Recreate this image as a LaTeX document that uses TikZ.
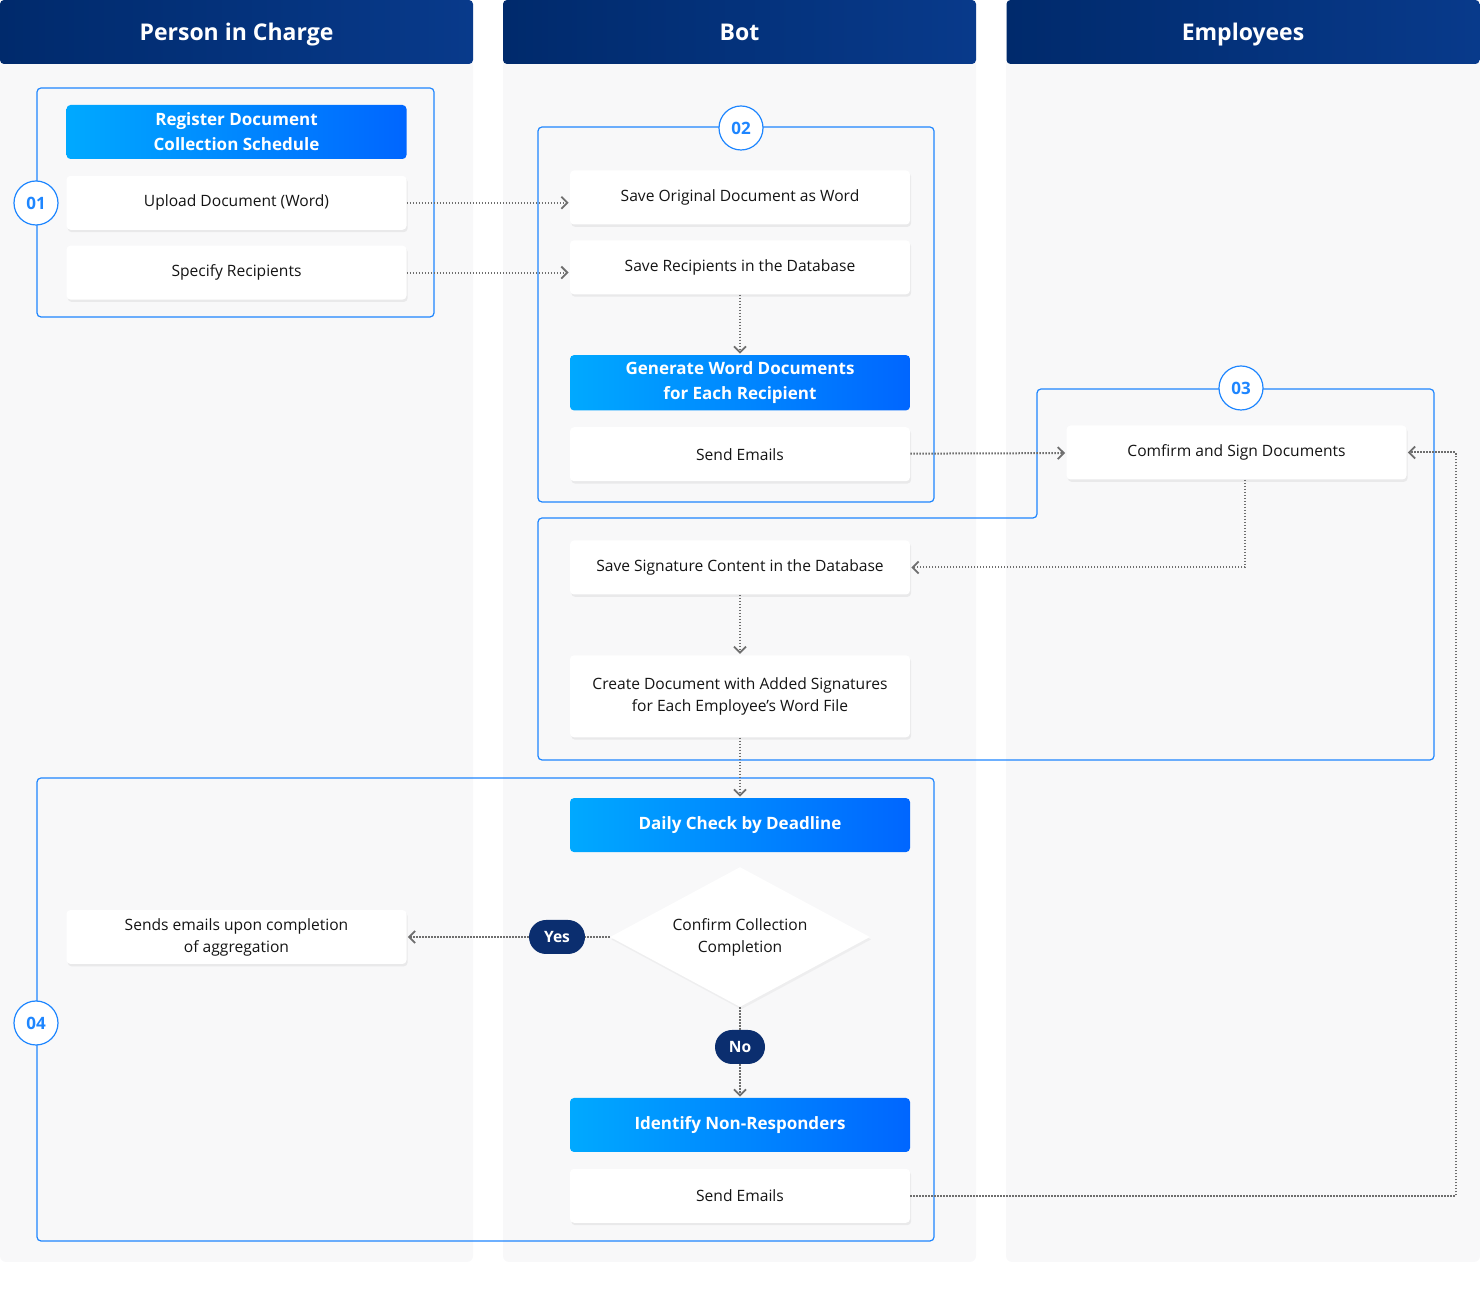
\documentclass[tikz,border=0pt]{standalone}
\usepackage{fontspec}
\setmainfont{Open Sans}
\usetikzlibrary{shapes.geometric, arrows.meta, positioning, shadows}

\definecolor{lanebg}{HTML}{F8F8F9}
\definecolor{navyA}{HTML}{002A6C}
\definecolor{navyB}{HTML}{083A8B}
\definecolor{frameblue}{HTML}{1E86FF}
\definecolor{gradA}{HTML}{00A9FF}
\definecolor{gradB}{HTML}{0066FF}
\definecolor{pillnavy}{HTML}{0B2E6F}
\definecolor{flowgray}{HTML}{6E6E6E}
\definecolor{txt}{HTML}{141414}

\begin{document}
\begin{tikzpicture}[
  x=0.5pt, y=-0.5pt,
  lane/.style={fill=lanebg, rounded corners=3pt},
  head/.style={rectangle, left color=navyA, right color=navyB, rounded corners=2pt, minimum width=236.5pt, minimum height=32pt, text height=10pt, text depth=1pt, text=white, font=\fontsize{11.5}{13}\selectfont\bfseries},
  frame/.style={draw=frameblue, line width=0.6pt, rounded corners=2pt},
  badge/.style={circle, draw=frameblue, line width=0.6pt, fill=white, minimum size=22pt, inner sep=0pt, text=frameblue, font=\fontsize{8.5}{10}\selectfont\bfseries},
  whitebox/.style={rectangle, fill=white, rounded corners=2pt, minimum width=170pt, minimum height=27pt, align=center, text=txt, font=\fontsize{7.8}{11}\selectfont, drop shadow={shadow xshift=0.6pt, shadow yshift=-1.2pt, opacity=0.12}},
  gradbox/.style={rectangle, left color=gradA, right color=gradB, rounded corners=2pt, minimum width=170pt, minimum height=27pt, align=center, text=white, font=\fontsize{8.5}{12.5}\selectfont\bfseries},
  decision/.style={diamond, aspect=1.86, fill=white, minimum width=130pt, minimum height=70pt, inner sep=0pt, align=center, text=txt, font=\fontsize{7.8}{11}\selectfont, drop shadow={shadow xshift=0.6pt, shadow yshift=-1.2pt, opacity=0.08}},
  pill/.style={rectangle, fill=pillnavy, rounded corners=8.5pt, minimum height=17pt, minimum width=25pt, text=white, font=\fontsize{7.8}{9}\selectfont\bfseries},
  link/.style={draw=flowgray, line width=1pt, dash pattern=on 0.75pt off 0.75pt},
  flow/.style={link, -{Straight Barb[length=3pt, width=6pt, line width=0.9pt]}, shorten >=0.5pt}
]
\useasboundingbox (0,0) rectangle (1480,1293);

% Swimlanes
\fill[lane] (0,0) rectangle (473,1262);
\fill[lane] (503,0) rectangle (976,1262);
\fill[lane] (1006,0) rectangle (1480,1262);
\node[head] (hpic) at (236.5,32) {Person in Charge};
\node[head] (hbot) at (739.5,32) {Bot};
\node[head] (hemp) at (1243,32) {Employees};

% Step frames
\draw[frame] (37,88) rectangle (434,317);
\draw[frame] (538,127) rectangle (934,502);
\draw[frame] (1037,389) -- (1434,389) -- (1434,760) -- (538,760) -- (538,518) -- (1037,518) -- cycle;
\draw[frame] (37,778) rectangle (934,1241);

% Step 01 - person in charge
\node[gradbox] (register) at (236.5,132) {Register Document\\Collection Schedule};
\node[whitebox, below=8pt of register] (upload) {Upload Document (Word)};
\node[whitebox, below=7.5pt of upload] (recipients) {Specify Recipients};

% Step 02 - bot
\node[whitebox] (saveword) at (740,197.5) {Save Original Document as Word};
\node[whitebox, below=7.5pt of saveword] (savercp) {Save Recipients in the Database};
\node[gradbox, below=30pt of savercp] (generate) {Generate Word Documents\\for Each Recipient};
\node[whitebox, below=8pt of generate] (sendmail) {Send Emails};

% Step 03 - employees and bot
\node[whitebox] (confirm) at (1236.5,452.5) {Comfirm and Sign Documents};
\node[whitebox] (savesig) at (740,567.5) {Save Signature Content in the Database};
\node[whitebox, minimum height=41pt, below=30pt of savesig] (create) {Create Document with Added Signatures\\for Each Employee's Word File};

% Step 04 - deadline check
\node[gradbox, below=30pt of create] (daily) {Daily Check by Deadline};
\node[decision] (check) at (740,937) {Confirm Collection\\Completion};
\node[pill, minimum width=28pt] (yes) at (557,937) {Yes};
\node[pill] (no) at (740,1047) {No};
\node[whitebox] (notify) at (236.5,937) {Sends emails upon completion\\of aggregation};
\node[gradbox] (identify) at (740,1125) {Identify Non-Responders};
\node[whitebox, below=8pt of identify] (resend) {Send Emails};
\coordinate (loop) at (1456,454);

% Badges
\node[badge] (n01) at (36,203) {01};
\node[badge] (n02) at (741,128) {02};
\node[badge] (n03) at (1241,388) {03};
\node[badge] (n04) at (36,1023) {04};

% Connectors
\draw[flow] (upload.east) -- (saveword.west |- upload.east);
\draw[flow] (recipients.east) -- (savercp.west |- recipients.east);
\draw[flow] (savercp) -- (generate);
\draw[flow] (sendmail) -- (confirm);
\draw[flow] ([xshift=4pt]confirm.south) |- (savesig.east);
\draw[flow] (savesig) -- (create);
\draw[flow] (create) -- (daily);
\draw[link] (check) -- (yes);
\draw[flow] (yes) -- (notify);
\draw[link] (check) -- (no);
\draw[flow] (no) -- (identify);
\draw[flow] (resend.east) -| (loop) |- (confirm.east);

\end{tikzpicture}
\end{document}
